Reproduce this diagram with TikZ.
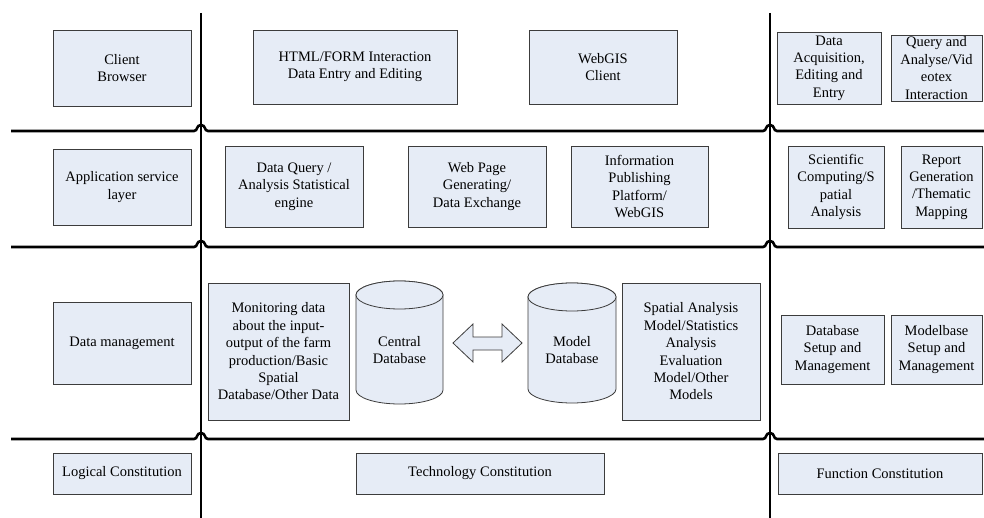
\documentclass[tikz,border=0pt]{standalone}
\usepackage{fontspec}
\setmainfont{Liberation Serif}
\definecolor{boxfill}{RGB}{230,236,246}
\definecolor{boxline}{RGB}{60,60,60}
\begin{document}
\begin{tikzpicture}[x=1pt,y=-1pt,
  box/.style={draw=boxline, fill=boxfill, line width=0.8pt, align=center, inner sep=0pt,
    font=\fontsize{14.5}{17.4}\selectfont},
  lbl/.style={align=center, inner sep=0pt, font=\fontsize{14.5}{17.4}\selectfont},
  sep/.style={line width=2.6pt, black},
  cyl/.style={draw=boxline, fill=boxfill, line width=0.8pt},
  every node/.style={text=black}]
\useasboundingbox (0,0) rectangle (984,518);
% separator lines
\draw[sep] (201,13) -- (201,518);
\draw[sep] (770,13) -- (770,518);
\foreach \yy in {131,247,439}{
  \draw[sep] (11,\yy) -- (194,\yy) .. controls (198,\yy) and (196,\yy-6) .. (201,\yy-6)
     .. controls (206,\yy-6) and (204,\yy) .. (208,\yy) -- (763,\yy)
     .. controls (767,\yy) and (765,\yy-6) .. (770,\yy-6)
     .. controls (775,\yy-6) and (773,\yy) .. (777,\yy) -- (984,\yy);
}
% row 1
\node[box, minimum width=138, minimum height=76] (cb) at (122,68) {Client\\Browser};
\node[box, minimum width=204, minimum height=74] (html) at (355,67) {HTML/FORM Interaction\\Data Entry and Editing};
\node[box, minimum width=148, minimum height=74] (webgis) at (603,67) {WebGIS\\Client};
\node[box, minimum width=104, minimum height=72] (acq) at (829,68) {Data\\Acquisition,\\Editing and\\Entry};
\node[box, minimum width=91, minimum height=66] (query) at (936.5,68) {Query and\\Analyse/Vid\\eotex\\Interaction};
% row 2
\node[box, minimum width=138, minimum height=76] (app) at (122,187) {Application service\\layer};
\node[box, minimum width=138, minimum height=81] (dq) at (294,186.5) {Data Query /\\Analysis Statistical\\engine};
\node[box, minimum width=138, minimum height=81] (wp) at (477,186.5) {Web Page\\Generating/\\Data Exchange};
\node[box, minimum width=137, minimum height=81] (ip) at (639.5,186.5) {Information\\Publishing\\Platform/\\WebGIS};
\node[box, minimum width=96, minimum height=82] (sc) at (836,187) {Scientific\\Computing/S\\patial\\Analysis};
\node[box, minimum width=81, minimum height=82] (rg) at (941.5,187) {Report\\Generation\\/Thematic\\Mapping};
% row 3
\node[box, minimum width=138, minimum height=82] (dm) at (122,343) {Data management};
\node[box, minimum width=141, minimum height=137] (mon) at (278.5,351.5) {Monitoring data\\about the input-\\output of the farm\\production/Basic\\Spatial\\Database/Other Data};
% central database cylinder
\draw[cyl] (356,295) -- (356,390) arc[start angle=180, end angle=360, x radius=43.5pt, y radius=14pt] -- (443,295)
   arc[start angle=0, end angle=180, x radius=43.5pt, y radius=14pt] -- cycle;
\draw[cyl] (399.5,295) ellipse [x radius=43.5pt, y radius=14pt];
\node[lbl] (cdb) at (399.5,350) {Central\\Database};
% model database cylinder
\draw[cyl] (528,297) -- (528,389) arc[start angle=180, end angle=360, x radius=44pt, y radius=14pt] -- (616,297)
   arc[start angle=0, end angle=180, x radius=44pt, y radius=14pt] -- cycle;
\draw[cyl] (572,297) ellipse [x radius=44pt, y radius=14pt];
\node[lbl] (mdb) at (572,350) {Model\\Database};
% double arrow
\draw[cyl] (453,343) -- (473,324) -- (473,337) -- (502,337) -- (502,324) -- (522,343)
   -- (502,362) -- (502,350) -- (473,350) -- (473,362) -- cycle;
\node[box, minimum width=138, minimum height=137] (sa) at (691,351.5) {Spatial Analysis\\Model/Statistics\\Analysis\\Evaluation\\Model/Other\\Models};
\node[box, minimum width=103, minimum height=69] (dbs) at (832.5,349.5) {Database\\Setup and\\Management};
\node[box, minimum width=91, minimum height=69] (mbs) at (936.5,349.5) {Modelbase\\Setup and\\Management};
% row 4
\node[box, minimum width=138, minimum height=41] (lc) at (122,473.5) {Logical Constitution};
\node[box, minimum width=248, minimum height=41] (tc) at (480,473.5) {Technology Constitution};
\node[box, minimum width=204, minimum height=41] (fc) at (880,473.5) {Function Constitution};
\end{tikzpicture}
\end{document}
